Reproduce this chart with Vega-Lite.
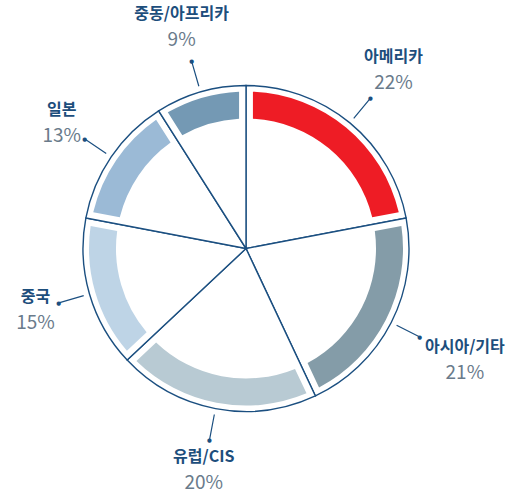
{
  "$schema": "https://vega.github.io/schema/vega-lite/v6.json",
  "autosize": {"type": "none"},
  "padding": {"left": 0, "top": 0, "right": 36, "bottom": 0},
  "width": 492,
  "height": 497,
  "background": "white",
  "config": {"view": {"stroke": null}},
  "data": {
    "values": [
      {"region": "아메리카", "value": 22, "order": 1},
      {"region": "아시아/기타", "value": 21, "order": 2},
      {"region": "유럽/CIS", "value": 20, "order": 3},
      {"region": "중국", "value": 15, "order": 4},
      {"region": "일본", "value": 13, "order": 5},
      {"region": "중동/아프리카", "value": 9, "order": 6}
    ]
  },
  "encoding": {
    "theta": {"field": "value", "type": "quantitative", "stack": true},
    "order": {"field": "order", "type": "quantitative"}
  },
  "layer": [
    {
      "mark": {"type": "arc", "radius": 163, "radius2": 0, "fill": "white", "stroke": "#1B4F80", "strokeWidth": 1.4}
    },
    {
      "mark": {"type": "arc", "radius": 157, "radius2": 130, "padAngle": 0.068},
      "encoding": {
        "color": {
          "field": "region",
          "type": "nominal",
          "scale": {
            "domain": ["아메리카", "아시아/기타", "유럽/CIS", "중국", "일본", "중동/아프리카"],
            "range": ["#EE1C25", "#849CA8", "#B8CAD3", "#BED4E6", "#9BBAD6", "#7499B4"]
          },
          "legend": null
        }
      }
    },
    {
      "mark": {"type": "arc", "radius": 194, "radius2": 169, "padAngle": 2, "fill": null, "stroke": "#1B4F80", "strokeWidth": 1.2}
    },
    {
      "mark": {"type": "text", "text": "●", "radius": 195, "fontSize": 5.5, "color": "#1B4F80", "align": "center", "baseline": "middle", "font": "DejaVu Sans"}
    },
    {
      "mark": {
        "type": "text",
        "radius": {"expr": "196 + max(length(datum.region) * 7.5, 18) * abs(sin(PI * (datum.value_start + datum.value_end) / 100)) + 21 * abs(cos(PI * (datum.value_start + datum.value_end) / 100))"},
        "dy": -13,
        "align": "center",
        "baseline": "middle",
        "font": "Noto Sans CJK KR",
        "fontWeight": "bold",
        "fontSize": 16,
        "color": "#1D4E7C"
      },
      "encoding": {"text": {"field": "region"}}
    },
    {
      "mark": {
        "type": "text",
        "radius": {"expr": "196 + max(length(datum.region) * 7.5, 18) * abs(sin(PI * (datum.value_start + datum.value_end) / 100)) + 21 * abs(cos(PI * (datum.value_start + datum.value_end) / 100))"},
        "dy": 13,
        "align": "center",
        "baseline": "middle",
        "font": "Noto Sans CJK KR",
        "fontWeight": "normal",
        "fontSize": 19,
        "color": "#6A7B8B",
        "text": {"expr": "datum.value + '%'"}
      }
    }
  ]
}
